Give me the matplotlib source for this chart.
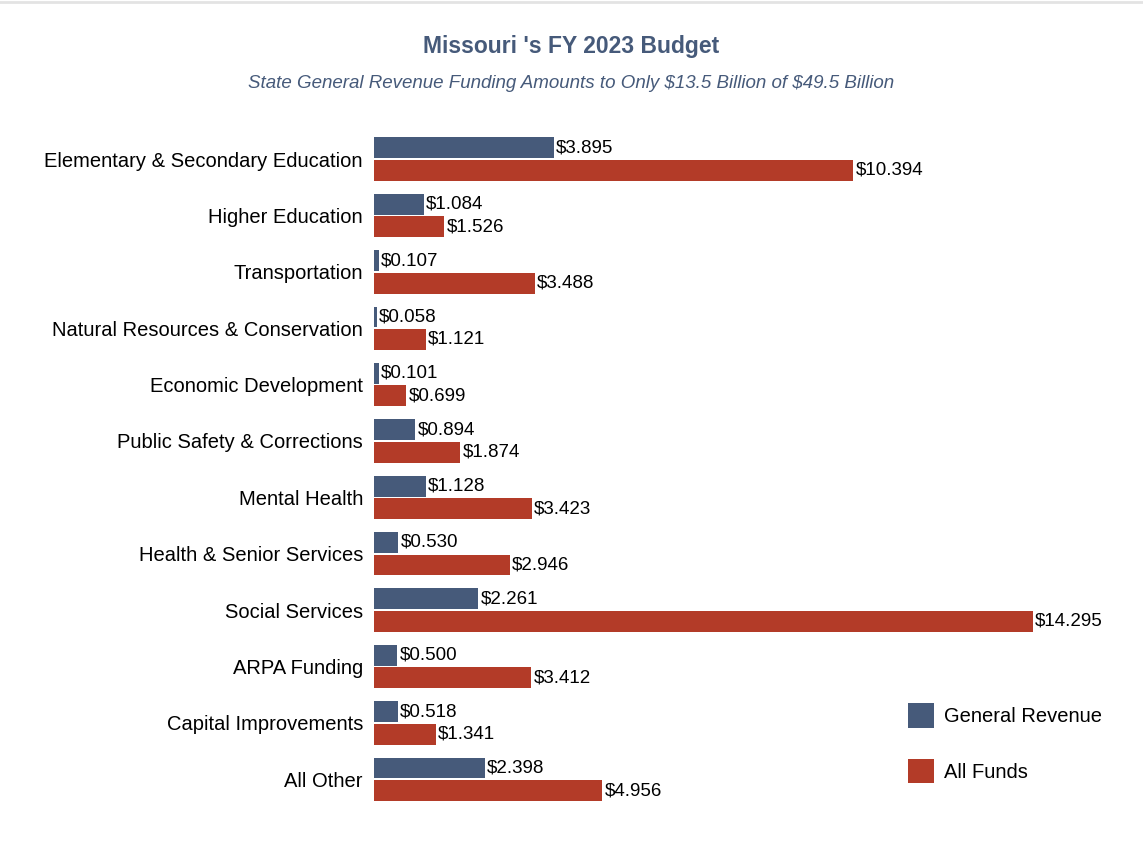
import matplotlib.pyplot as plt
import matplotlib.lines as mlines
import numpy as np

plt.rcParams.update({'font.family': ['Liberation Sans', 'DejaVu Sans']})

categories = ['Elementary & Secondary Education', 'Higher Education', 'Transportation',
              'Natural Resources & Conservation', 'Economic Development',
              'Public Safety & Corrections', 'Mental Health', 'Health & Senior Services',
              'Social Services', 'ARPA Funding', 'Capital Improvements', 'All Other']
general_revenue = [3.895, 1.084, 0.107, 0.058, 0.101, 0.894, 1.128, 0.530, 2.261, 0.500, 0.518, 2.398]
all_funds = [10.394, 1.526, 3.488, 1.121, 0.699, 1.874, 3.423, 2.946, 14.295, 3.412, 1.341, 4.956]

c_gr = '#465a7a'
c_af = '#b33b28'
title_c = '#465a7a'

fig = plt.figure(figsize=(11.43, 8.56), dpi=100)
ax = fig.add_axes([374/1143, 0.0567, 737.6/1143, 0.7904])

y = np.arange(len(categories))
h = 0.37
ax.barh(y - 0.2, general_revenue, height=h, color=c_gr, label='General Revenue')
ax.barh(y + 0.2, all_funds, height=h, color=c_af, label='All Funds')

for yi, v in zip(y, general_revenue):
    ax.text(v + 0.05, yi - 0.2, r'\$%.3f' % v, va='center', ha='left', fontsize=13.5)
for yi, v in zip(y, all_funds):
    ax.text(v + 0.05, yi + 0.2, r'\$%.3f' % v, va='center', ha='left', fontsize=13.5)

ax.set_xlim(0, 16)
ax.set_ylim(11.5, -0.5)
ax.set_yticks(y)
ax.set_yticklabels(categories, fontsize=14.5)
ax.set_xticks([])
ax.tick_params(axis='y', length=0, pad=8)
for s in ax.spines.values():
    s.set_visible(False)

ax.legend(loc='upper left', bbox_to_anchor=(890/1143, 1 - 685/856), bbox_transform=fig.transFigure,
          frameon=False, fontsize=14.5, handlelength=1.3, handleheight=1.5,
          labelspacing=1.55, handletextpad=0.5)

fig.text(0.5, 1 - 46/856, "Missouri 's FY 2023 Budget", ha='center', va='center',
         fontsize=16.5, fontweight='bold', color=title_c)
fig.text(0.5, 1 - 84/856, r'State General Revenue Funding Amounts to Only \$13.5 Billion of \$49.5 Billion',
         ha='center', va='center', fontsize=13.5, style='italic', color=title_c)

fig.add_artist(mlines.Line2D([0, 1], [0.998, 0.998], color='#e3e3e3', lw=2))

plt.savefig('out.png', dpi=100)
